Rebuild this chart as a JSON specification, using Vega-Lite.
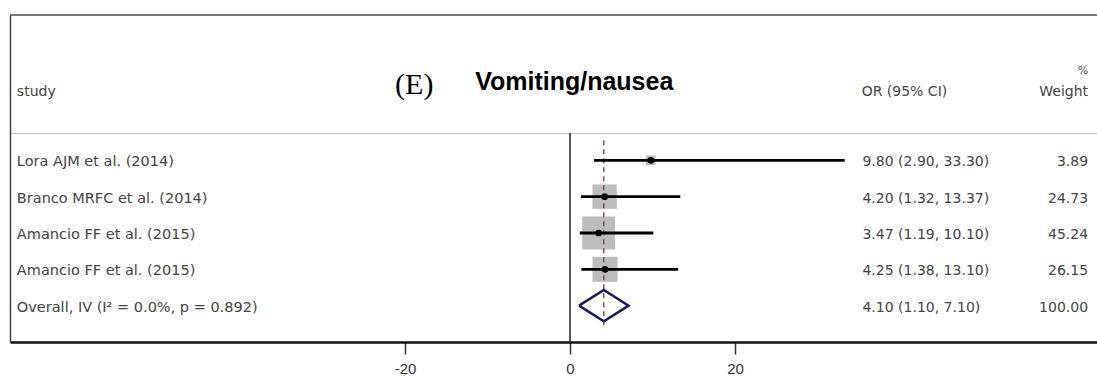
{
  "$schema": "https://vega.github.io/schema/vega-lite/v6.json",
  "width": 1087,
  "height": 327,
  "autosize": {"type": "none"},
  "padding": {"left": 10, "top": 15, "right": 0, "bottom": 38},
  "background": "white",
  "config": {"view": {"stroke": null}, "font": "DejaVu Sans"},
  "datasets": {
    "studies": [
      {"row": 1, "kind": "study", "study": "Lora AJM et al. (2014)", "or": 9.80, "lo": 2.90, "hi": 33.30, "weight": 3.89},
      {"row": 2, "kind": "study", "study": "Branco MRFC et al. (2014)", "or": 4.20, "lo": 1.32, "hi": 13.37, "weight": 24.73},
      {"row": 3, "kind": "study", "study": "Amancio FF et al. (2015)", "or": 3.47, "lo": 1.19, "hi": 10.10, "weight": 45.24},
      {"row": 4, "kind": "study", "study": "Amancio FF et al. (2015)", "or": 4.25, "lo": 1.38, "hi": 13.10, "weight": 26.15},
      {"row": 5, "kind": "overall", "study": "Overall, IV (I² = 0.0%, p = 0.892)", "or": 4.10, "lo": 1.10, "hi": 7.10, "weight": 100.00}
    ],
    "diamond": [
      {"vertex": 1, "x": 1.10, "y": 5.0},
      {"vertex": 2, "x": 4.10, "y": 4.57},
      {"vertex": 3, "x": 7.10, "y": 5.0},
      {"vertex": 4, "x": 4.10, "y": 5.43},
      {"vertex": 5, "x": 1.10, "y": 5.0}
    ]
  },
  "layer": [
    {
      "description": "Study weight squares",
      "data": {"name": "studies"},
      "transform": [{"filter": "datum.kind === 'study'"}],
      "mark": {"type": "point", "shape": "square", "filled": true, "color": "#bdbdbd", "opacity": 1},
      "encoding": {
        "x": {
          "field": "or", "type": "quantitative",
          "scale": {"domain": [-67.88, 63.88], "nice": false, "zero": false},
          "axis": {
            "orient": "bottom", "values": [-20, 0, 20], "title": null, "grid": false,
            "labelExpr": "replace(datum.label, '\u2212', '-')",
            "domainColor": "#111", "domainWidth": 2.5,
            "tickColor": "#333", "tickSize": 12, "tickWidth": 1.5,
            "labelFont": "Liberation Sans", "labelFontSize": 15,
            "labelColor": "#333", "labelPadding": 7
          }
        },
        "y": {
          "field": "row", "type": "quantitative",
          "scale": {"domain": [-3, 6], "reverse": true, "nice": false, "zero": false},
          "axis": {
            "orient": "left", "values": [0.25], "title": null, "grid": true,
            "gridColor": "#c4c4c4", "gridWidth": 1,
            "domain": true, "domainColor": "#444", "domainWidth": 1.5,
            "ticks": false, "labels": false
          }
        },
        "size": {"field": "weight", "type": "quantitative", "scale": {"domain": [0, 100], "range": [0, 2400]}, "legend": null}
      }
    },
    {
      "description": "Line of no effect",
      "data": {"values": [{}]},
      "mark": {"type": "rule", "color": "#222", "strokeWidth": 1.5},
      "encoding": {
        "x": {"datum": 0, "type": "quantitative"},
        "y": {"datum": 0.25, "type": "quantitative"},
        "y2": {"datum": 6}
      }
    },
    {
      "description": "Pooled estimate reference line",
      "data": {"name": "studies"},
      "transform": [{"filter": "datum.kind === 'overall'"}],
      "mark": {"type": "rule", "color": "#7a3a3a", "strokeWidth": 1.3, "strokeDash": [5, 4]},
      "encoding": {
        "x": {"field": "or", "type": "quantitative"},
        "y": {"datum": 0.45, "type": "quantitative"},
        "y2": {"datum": 5.55}
      }
    },
    {
      "description": "Confidence intervals",
      "data": {"name": "studies"},
      "transform": [{"filter": "datum.kind === 'study'"}],
      "mark": {"type": "rule", "color": "#000", "strokeWidth": 2.8},
      "encoding": {
        "x": {"field": "lo", "type": "quantitative"},
        "x2": {"field": "hi"},
        "y": {"field": "row", "type": "quantitative"}
      }
    },
    {
      "description": "Point estimates",
      "data": {"name": "studies"},
      "transform": [{"filter": "datum.kind === 'study'"}],
      "mark": {"type": "point", "shape": "circle", "filled": true, "color": "#000", "opacity": 1, "size": 45},
      "encoding": {
        "x": {"field": "or", "type": "quantitative"},
        "y": {"field": "row", "type": "quantitative"}
      }
    },
    {
      "description": "Pooled estimate diamond",
      "data": {"name": "diamond"},
      "mark": {"type": "line", "color": "#1b1b5e", "strokeWidth": 2.5, "strokeJoin": "miter"},
      "encoding": {
        "x": {"field": "x", "type": "quantitative"},
        "y": {"field": "y", "type": "quantitative"},
        "order": {"field": "vertex", "type": "quantitative"}
      }
    },
    {
      "description": "Study names",
      "data": {"name": "studies"},
      "mark": {"type": "text", "align": "left", "baseline": "middle", "dy": 2, "fontSize": 14.5, "color": "#444"},
      "encoding": {
        "x": {"datum": -67.05, "type": "quantitative"},
        "y": {"field": "row", "type": "quantitative"},
        "text": {"field": "study"}
      }
    },
    {
      "description": "OR (95% CI) column",
      "data": {"name": "studies"},
      "transform": [{"calculate": "format(datum.or, '.2f') + ' (' + format(datum.lo, '.2f') + ', ' + format(datum.hi, '.2f') + ')'", "as": "ci"}],
      "mark": {"type": "text", "align": "left", "baseline": "middle", "dy": 2, "fontSize": 14, "color": "#444"},
      "encoding": {
        "x": {"datum": 35.45, "type": "quantitative"},
        "y": {"field": "row", "type": "quantitative"},
        "text": {"field": "ci"}
      }
    },
    {
      "description": "Weight column",
      "data": {"name": "studies"},
      "transform": [{"calculate": "format(datum.weight, '.2f')", "as": "w"}],
      "mark": {"type": "text", "align": "right", "baseline": "middle", "dy": 2, "fontSize": 14, "color": "#444"},
      "encoding": {
        "x": {"datum": 62.8, "type": "quantitative"},
        "y": {"field": "row", "type": "quantitative"},
        "text": {"field": "w"}
      }
    },
    {
      "data": {"values": [{"t": "study"}]},
      "mark": {"type": "text", "align": "left", "baseline": "middle", "fontSize": 14, "color": "#444"},
      "encoding": {
        "x": {"datum": -67.05, "type": "quantitative"},
        "y": {"datum": -0.88, "type": "quantitative"},
        "text": {"field": "t"}
      }
    },
    {
      "data": {"values": [{"t": "OR (95% CI)"}]},
      "mark": {"type": "text", "align": "left", "baseline": "middle", "fontSize": 14, "color": "#444"},
      "encoding": {
        "x": {"datum": 35.35, "type": "quantitative"},
        "y": {"datum": -0.88, "type": "quantitative"},
        "text": {"field": "t"}
      }
    },
    {
      "data": {"values": [{"t": "Weight"}]},
      "mark": {"type": "text", "align": "right", "baseline": "middle", "fontSize": 14, "color": "#444"},
      "encoding": {
        "x": {"datum": 62.8, "type": "quantitative"},
        "y": {"datum": -0.88, "type": "quantitative"},
        "text": {"field": "t"}
      }
    },
    {
      "data": {"values": [{"t": "%"}]},
      "mark": {"type": "text", "align": "right", "baseline": "middle", "fontSize": 11, "color": "#444"},
      "encoding": {
        "x": {"datum": 62.8, "type": "quantitative"},
        "y": {"datum": -1.46, "type": "quantitative"},
        "text": {"field": "t"}
      }
    },
    {
      "data": {"values": [{"t": "(E)"}]},
      "mark": {"type": "text", "align": "left", "baseline": "alphabetic", "font": "Liberation Serif", "fontSize": 30, "color": "#000"},
      "encoding": {
        "x": {"datum": -21.2, "type": "quantitative"},
        "y": {"datum": -0.826, "type": "quantitative"},
        "text": {"field": "t"}
      }
    },
    {
      "data": {"values": [{"t": "Vomiting/nausea"}]},
      "mark": {"type": "text", "align": "left", "baseline": "alphabetic", "font": "Liberation Sans", "fontWeight": "bold", "fontSize": 25, "color": "#000"},
      "encoding": {
        "x": {"datum": -11.5, "type": "quantitative"},
        "y": {"datum": -0.936, "type": "quantitative"},
        "text": {"field": "t"}
      }
    },
    {
      "description": "Top edge of the frame",
      "data": {"values": [{}]},
      "mark": {"type": "rule", "color": "#4a4a4a", "strokeWidth": 1.5},
      "encoding": {
        "x": {"datum": -67.88, "type": "quantitative"},
        "x2": {"datum": 63.88},
        "y": {"datum": -3, "type": "quantitative"}
      }
    }
  ]
}
